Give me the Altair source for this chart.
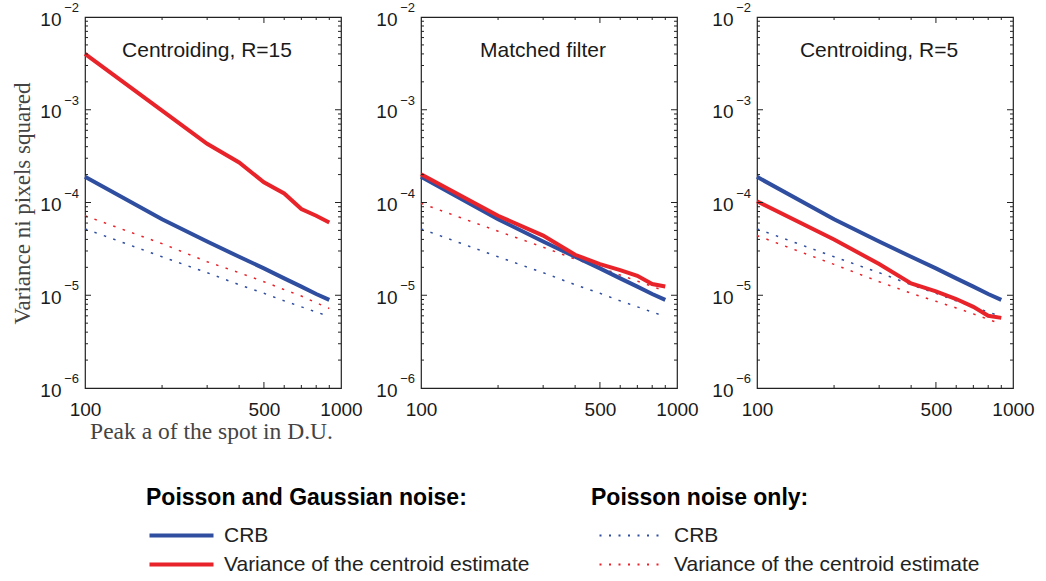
import altair as alt
import pandas as pd

# ---------------- data ----------------
peaks = [100, 200, 300, 400, 500, 600, 700, 800, 900]

crb_gauss = [1.89e-4, 6.6e-5, 3.8e-5, 2.6e-5, 1.95e-5, 1.52e-5, 1.24e-5, 1.03e-5, 8.9e-6]
crb_poisson = [5.2e-5, 2.6e-5, 1.75e-5, 1.3e-5, 1.05e-5, 8.7e-6, 7.5e-6, 6.6e-6, 5.9e-6]

var_gauss_r15 = [4.0e-3, 9.8e-4, 4.3e-4, 2.7e-4, 1.65e-4, 1.25e-4, 8.5e-5, 7.2e-5, 6.1e-5]
var_poisson_r15 = [7.2e-5, 3.6e-5, 2.3e-5, 1.75e-5, 1.4e-5, 1.15e-5, 9.8e-6, 8.3e-6, 7.2e-6]

var_gauss_mf = [2.02e-4, 7.2e-5, 4.4e-5, 2.73e-5, 2.17e-5, 1.87e-5, 1.62e-5, 1.32e-5, 1.24e-5]
var_poisson_mf = [9.8e-5, 4.9e-5, 3.3e-5, 2.45e-5, 2.0e-5, 1.65e-5, 1.42e-5, 1.25e-5, 1.1e-5]

var_gauss_r5 = [1.03e-4, 4.0e-5, 2.17e-5, 1.34e-5, 1.1e-5, 9.1e-6, 7.5e-6, 6.0e-6, 5.7e-6]
var_poisson_r5 = [4.4e-5, 2.15e-5, 1.4e-5, 1.05e-5, 8.6e-6, 7.3e-6, 6.3e-6, 5.5e-6, 4.9e-6]

panel_titles = ["Centroiding, R=15", "Matched filter", "Centroiding, R=5"]
series_names = ["CRB", "Variance of the centroid estimate"]
# trailing space keeps the Poisson-only legend separate from the other one
series_names_p = ["CRB ", "Variance of the centroid estimate "]

x_tick_values = [100, 500, 1000]
y_tick_values = [1e-6, 1e-5, 1e-4, 1e-3, 1e-2]
y_exponents = ["\u22126", "\u22125", "\u22124", "\u22123", "\u22122"]
x_minor = [200, 300, 400, 600, 700, 800, 900]
x_major_inner = [500]
y_minor = [k * d for d in [1e-6, 1e-5, 1e-4, 1e-3] for k in range(2, 10)]
y_major_inner = [1e-5, 1e-4, 1e-3]

BLUE = "#2F4EA0"
RED = "#E8232A"
W, H = 256, 371
SANS = "Liberation Sans"
SERIF = "Liberation Serif"

var_g = [var_gauss_r15, var_gauss_mf, var_gauss_r5]
var_p = [var_poisson_r15, var_poisson_mf, var_poisson_r5]

xscale = alt.Scale(type="log", domain=[100, 1000], nice=False)
yscale = alt.Scale(type="log", domain=[1e-6, 1e-2], nice=False)

color_scale = alt.Scale(domain=series_names, range=[BLUE, RED])
stroke_scale = alt.Scale(domain=series_names_p, range=[BLUE, RED])

exp_df = pd.DataFrame({"value": y_tick_values, "lab": y_exponents})


def axes(first):
    xaxis = alt.Axis(values=x_tick_values, format="d", labelFontSize=19, labelFont=SANS,
                     labelColor="#1a1a1a", ticks=False, domain=False, grid=False,
                     labelPadding=12, labelFlush=False, labelOverlap=False,
                     title="Peak a of the spot in D.U." if first else "",
                     titleFont=SERIF, titleFontSize=23.5, titleFontWeight="normal",
                     titleColor="#444", titleX=126, titleY=50,
                     titleBaseline="alphabetic", titleAlign="center")
    yaxis = alt.Axis(values=y_tick_values, labelExpr="'10'", labelFontSize=19,
                     labelFont=SANS, labelColor="#1a1a1a", ticks=False, domain=False,
                     grid=False, labelPadding=24, labelOffset=2, labelFlush=False,
                     labelOverlap=False,
                     title="Variance ni pixels squared" if first else "",
                     titleFont=SERIF, titleFontSize=23, titleFontWeight="normal",
                     titleColor="#444", titleX=-56, titleY=186, titleAngle=270,
                     titleBaseline="alphabetic", titleAlign="center")
    return xaxis, yaxis


def tick_layer(values, channel, start, length, xaxis, yaxis):
    df = pd.DataFrame({"v": values})
    base = alt.Chart(df).mark_rule(color="#222", strokeWidth=1)
    if channel == "y":
        return base.encode(
            y=alt.Y("v:Q", scale=yscale, axis=yaxis),
            x=alt.value(start), x2=alt.value(start + length))
    return base.encode(
        x=alt.X("v:Q", scale=xscale, axis=xaxis),
        y=alt.value(start), y2=alt.value(start + length))


def panel(i):
    rows = []
    for s, arr in zip(series_names, [crb_gauss, var_g[i]]):
        for a, v in zip(peaks, arr):
            rows.append({"a": a, "value": v, "series": s})
    dg = pd.DataFrame(rows)
    rows = []
    for s, arr in zip(series_names_p, [crb_poisson, var_p[i]]):
        for a, v in zip(peaks, arr):
            rows.append({"a": a, "value": v, "series_p": s})
    dp = pd.DataFrame(rows)

    xaxis, yaxis = axes(i == 0)

    dotted = alt.Chart(dp).mark_line(strokeWidth=1.5, strokeDash=[2.5, 7.5]).encode(
        x=alt.X("a:Q", scale=xscale, axis=xaxis),
        y=alt.Y("value:Q", scale=yscale, axis=yaxis),
        stroke=alt.Stroke("series_p:N", scale=stroke_scale,
                          legend=alt.Legend(title="Poisson noise only:", orient="none",
                                            legendX=506, legendY=470,
                                            symbolType="M-0.25,0H7.25",
                                            symbolStrokeWidth=2, symbolDash=[2, 7.5],
                                            labelOffset=62)),
    )
    solid = alt.Chart(dg).mark_line(strokeWidth=4).encode(
        x=alt.X("a:Q", scale=xscale, axis=xaxis),
        y=alt.Y("value:Q", scale=yscale, axis=yaxis),
        color=alt.Color("series:N", scale=color_scale,
                        legend=alt.Legend(title="Poisson and Gaussian noise:", orient="none",
                                          legendX=61, legendY=470,
                                          symbolType="M-0.875,0H7.125",
                                          symbolStrokeWidth=4, labelOffset=57)),
    )
    exps = alt.Chart(exp_df).mark_text(align="right", baseline="middle", dy=-9,
                                       fontSize=13, font=SANS, color="#1a1a1a").encode(
        y=alt.Y("value:Q", scale=yscale, axis=yaxis),
        x=alt.value(-6),
        text="lab:N",
    )
    ticks = [
        tick_layer(y_minor, "y", 0, 3, xaxis, yaxis), tick_layer(y_minor, "y", W, -3, xaxis, yaxis),
        tick_layer(y_major_inner, "y", 0, 6, xaxis, yaxis), tick_layer(y_major_inner, "y", W, -6, xaxis, yaxis),
        tick_layer(x_minor, "x", H, -3, xaxis, yaxis), tick_layer(x_minor, "x", 0, 3, xaxis, yaxis),
        tick_layer(x_major_inner, "x", H, -6, xaxis, yaxis), tick_layer(x_major_inner, "x", 0, 6, xaxis, yaxis),
    ]
    return alt.layer(dotted, solid, exps, *ticks).properties(
        width=W, height=H,
        title=alt.TitleParams(panel_titles[i], offset=-76, baseline="alphabetic",
                              frame="group", fontSize=21, font=SANS, fontWeight="normal",
                              color="#1a1a1a", anchor="middle", dx=-6),
    )


chart = alt.hconcat(panel(0), panel(1), panel(2), spacing=80, bounds="flush").properties(
    padding={"left": 10, "top": 1, "right": 5, "bottom": 5}
).configure_view(stroke="#222", strokeWidth=1.2).configure_legend(
    padding=0, titleFontSize=23, titleFont=SANS, titleFontWeight="bold",
    titleColor="#000", labelFontSize=21, labelFont=SANS, labelColor="#222",
    symbolSize=256, titlePadding=15, rowPadding=7, titleLimit=0, labelLimit=0,
)

chart.save("out.html", embed_options={"renderer": "svg", "actions": False})
